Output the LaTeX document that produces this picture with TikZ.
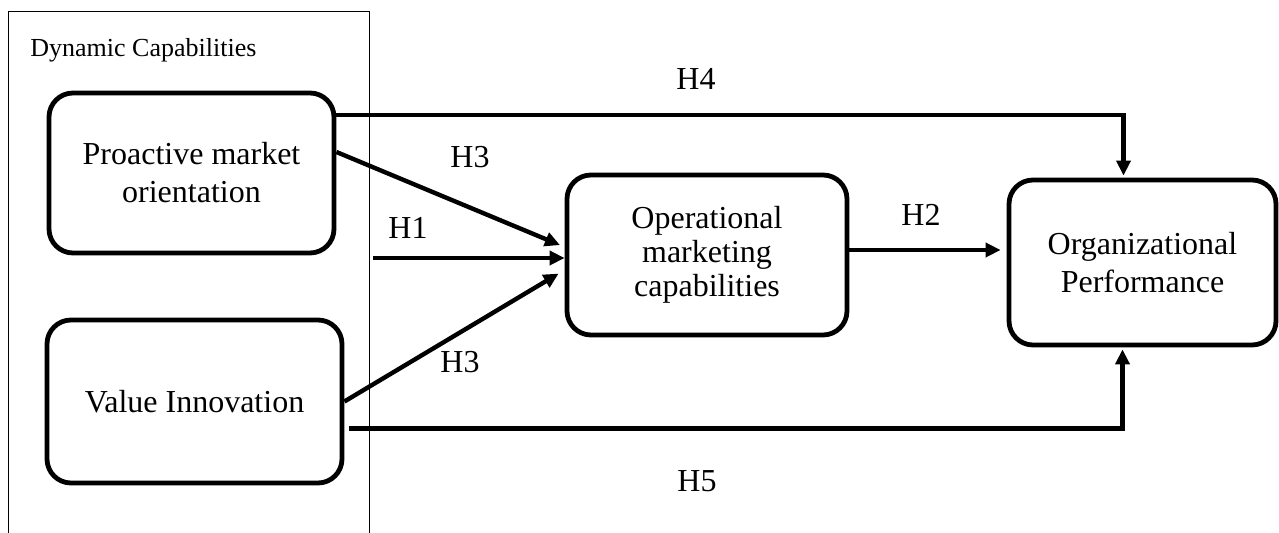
\documentclass[tikz,border=0pt]{standalone}
\usepackage{fontspec}
\setmainfont{Liberation Serif}
\usetikzlibrary{arrows.meta}

\begin{document}
\begin{tikzpicture}[x=0.5pt, y=-0.5pt,
    box/.style={draw, line width=2.4pt, rounded corners=12pt, align=center, font=\fontsize{16}{19}\selectfont},
    arr/.style={line width=2.2pt, -{Triangle[length=7.5pt,width=7pt]}},
    hyp/.style={font=\fontsize{16}{19}\selectfont}]
    \useasboundingbox (0,0) rectangle (1279,533);

    % Frame around the dynamic capabilities
    \draw[line width=0.5pt] (8,533) -- (8,12) -- (369,12) -- (369,533);
    \node[anchor=base west, inner sep=0pt, font=\fontsize{13}{15}\selectfont] (dyncap) at (30,57) {Dynamic Capabilities};

    % Draw the four constructs
    \node[box, minimum width=142.5pt, minimum height=80pt] (pmo) at (191.5,173) {Proactive market\\orientation};
    \node[box, minimum width=147.5pt, minimum height=81.5pt] (vi) at (194.5,401.5) {Value Innovation};
    \node[box, minimum width=140pt, minimum height=80pt, font=\fontsize{16}{17}\selectfont] (omc) at (707,255) {Operational\\marketing\\capabilities};
    \node[box, minimum width=133.5pt, minimum height=82.5pt] (op) at (1142.5,262.5) {Organizational\\Performance};

    % Free end of H1 and start of H2
    \coordinate (hone) at (373,258);
    \coordinate (htwo) at ([yshift=2.5pt]omc.east);

    % Draw the hypotheses
    \draw[arr, shorten >=1pt] ([yshift=29pt]pmo.east) -| ([xshift=-9.5pt]op.north);
    \draw[arr, shorten >=2.5pt] ([yshift=10.5pt]pmo.east) -- ([yshift=4pt]omc.west);
    \draw[arr] (hone) -- (hone -| omc.west);
    \draw[arr, shorten >=3.5pt] (vi.east) -- ([yshift=-7.5pt]omc.west);
    \draw[arr, shorten >=3pt] (htwo) -- (htwo -| op.west);
    \draw[arr, shorten <=2.5pt, shorten >=1pt] ([yshift=-13.5pt]vi.east) -| ([xshift=-10pt]op.south);

    % Hypothesis labels
    \node[hyp] (hfour) at (696,79) {H4};
    \node[hyp] (hthreea) at (470,157) {H3};
    \node[hyp] (hlone) at (408,228) {H1};
    \node[hyp] (hthreeb) at (460,362) {H3};
    \node[hyp] (htwol) at (921,215) {H2};
    \node[hyp] (hfive) at (697,481) {H5};
\end{tikzpicture}
\end{document}
